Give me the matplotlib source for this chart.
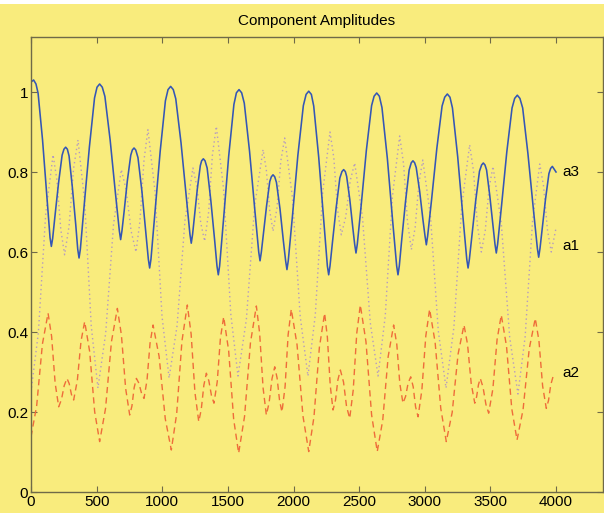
import matplotlib
matplotlib.use("Agg")
import matplotlib.pyplot as plt
from matplotlib.patches import Rectangle

plt.rcParams["font.family"] = ["Liberation Sans", "DejaVu Sans"]

# a3 (solid blue)
a3_x = [0, 20, 54, 88, 121, 155, 182, 210, 237, 264, 290, 315, 341, 366,
        405, 445, 484, 523, 563, 603, 643, 683, 709, 734, 760, 785,
        815, 845, 874, 904, 944, 984, 1024, 1064, 1103, 1143, 1182, 1221,
        1244, 1267, 1290, 1313, 1342, 1370, 1399, 1427, 1467, 1506, 1546, 1585,
        1625, 1665, 1705, 1745, 1770, 1795, 1819, 1844, 1870, 1897, 1923, 1950,
        1992, 2033, 2075, 2116, 2154, 2192, 2230, 2268, 2296, 2325, 2353, 2382,
        2405, 2429, 2452, 2476, 2516, 2555, 2595, 2634, 2674, 2715, 2755, 2796,
        2824, 2853, 2881, 2910, 2935, 2961, 2986, 3012, 3052, 3092, 3132, 3172,
        3211, 3251, 3290, 3330, 3359, 3388, 3417, 3446, 3471, 3495, 3520, 3545,
        3585, 3625, 3665, 3705, 3746, 3786, 3827, 3868, 3894, 3920, 3946, 3972, 4000]
a3_y = [1.025, 1.03, 0.997, 0.880, 0.739, 0.614, 0.688, 0.773, 0.842, 0.862, 0.840, 0.762, 0.668, 0.585,
        0.716, 0.863, 0.985, 1.02, 0.989, 0.880, 0.748, 0.631, 0.700, 0.778, 0.842, 0.86,
        0.836, 0.752, 0.650, 0.56, 0.696, 0.851, 0.978, 1.014, 0.983, 0.873, 0.740, 0.622,
        0.685, 0.757, 0.816, 0.833, 0.810, 0.729, 0.630, 0.543, 0.682, 0.839, 0.969, 1.006,
        0.972, 0.852, 0.706, 0.578, 0.643, 0.716, 0.776, 0.793, 0.774, 0.708, 0.627, 0.556,
        0.690, 0.841, 0.966, 1.002, 0.965, 0.837, 0.681, 0.543, 0.622, 0.711, 0.785, 0.806,
        0.789, 0.731, 0.660, 0.5975, 0.718, 0.854, 0.966, 0.9975, 0.961, 0.834, 0.679, 0.543,
        0.629, 0.725, 0.805, 0.828, 0.811, 0.752, 0.681, 0.618, 0.731, 0.859, 0.965, 0.995,
        0.960, 0.838, 0.691, 0.56, 0.639, 0.728, 0.802, 0.8225, 0.805, 0.742, 0.665, 0.5975,
        0.716, 0.850, 0.960, 0.992, 0.960, 0.846, 0.709, 0.587, 0.655, 0.732, 0.796, 0.814, 0.80]
# extra a3 readings close to each turning point (peaks are rounded)
a3_x_near = [38, 503, 543, 1044, 1084, 1565, 1605, 2096, 2136, 2614, 2654, 3152, 3192, 3685, 3725,
             251, 277, 772, 798, 1300, 1326, 1831, 1857, 2369, 2395, 2897, 2923, 3433, 3459, 3959,
             145, 165, 356, 376, 673, 693, 894, 914, 1211, 1231, 1417, 1437, 1735, 1755,
             1940, 1960, 2258, 2278, 2466, 2486, 2786, 2806, 3002, 3022, 3320, 3340,
             3535, 3555, 3858, 3878]
a3_y_near = [1.02, 1.012, 1.012, 1.006, 1.006, 0.998, 0.998, 0.994, 0.994, 0.9895, 0.9895, 0.987, 0.987, 0.984, 0.984,
             0.857, 0.857, 0.855, 0.855, 0.828, 0.828, 0.788, 0.788, 0.801, 0.801, 0.823, 0.823, 0.8175, 0.8175, 0.809,
             0.636, 0.634, 0.607, 0.607, 0.653, 0.653, 0.582, 0.582, 0.644, 0.644, 0.565, 0.565, 0.60, 0.60,
             0.578, 0.578, 0.565, 0.565, 0.6195, 0.6195, 0.565, 0.565, 0.64, 0.64, 0.582, 0.582,
             0.6195, 0.6195, 0.609, 0.609]

# a1 (dotted)
a1_x = [0, 56, 112, 168, 197, 227, 256, 290, 324, 358, 409, 459, 510,
        569, 629, 688, 725, 763, 800, 830, 861, 891, 945, 998, 1052,
        1113, 1173, 1234, 1264, 1293, 1323, 1353, 1382, 1412, 1467, 1522, 1577,
        1641, 1704, 1768, 1793, 1819, 1844, 1874, 1903, 1933, 1992, 2051, 2110,
        2166, 2222, 2278, 2307, 2335, 2364, 2398, 2432, 2466, 2525, 2585, 2644,
        2699, 2754, 2809, 2839, 2868, 2898, 2927, 2956, 2985, 3044, 3103, 3162,
        3222, 3282, 3342, 3372, 3401, 3431, 3461, 3490, 3520, 3583, 3647, 3710,
        3765, 3821, 3876, 3905, 3935, 3964, 4000]
a1_y = [0.25, 0.398, 0.695, 0.843, 0.781, 0.656, 0.593, 0.665, 0.808, 0.88, 0.725, 0.415, 0.26,
        0.397, 0.67, 0.806, 0.755, 0.652, 0.60, 0.677, 0.83, 0.906, 0.751, 0.44, 0.285,
        0.416, 0.679, 0.81, 0.764, 0.673, 0.627, 0.699, 0.842, 0.914, 0.758, 0.446, 0.29,
        0.432, 0.715, 0.856, 0.805, 0.703, 0.652, 0.710, 0.827, 0.885, 0.736, 0.439, 0.29,
        0.443, 0.748, 0.90, 0.836, 0.707, 0.643, 0.688, 0.778, 0.8225, 0.689, 0.423, 0.29,
        0.44, 0.74, 0.89, 0.819, 0.677, 0.606, 0.662, 0.774, 0.83, 0.688, 0.403, 0.26,
        0.412, 0.716, 0.868, 0.801, 0.667, 0.60, 0.654, 0.76, 0.814, 0.672, 0.387, 0.245,
        0.389, 0.676, 0.82, 0.765, 0.655, 0.60, 0.66]

# a2 (dashed)
a2_x = [0, 43, 87, 130, 157, 184, 211, 232, 253, 274, 291, 308, 325, 353, 381, 409,
        447, 485, 523, 568, 613, 658, 689, 721, 752, 769, 786, 803, 822, 842, 861,
        884, 907, 930, 976, 1023, 1069, 1110, 1150, 1191, 1220, 1249, 1278,
        1297, 1317, 1336, 1355, 1375, 1394, 1419, 1443, 1468, 1506, 1544, 1582,
        1627, 1672, 1717, 1742, 1768, 1793, 1814, 1836, 1857, 1875, 1894, 1912,
        1936, 1959, 1983, 2027, 2072, 2116, 2156, 2197, 2237, 2258, 2280, 2301,
        2320, 2338, 2357, 2381, 2404, 2428, 2455, 2482, 2509, 2552, 2595, 2638,
        2680, 2721, 2763, 2787, 2810, 2834, 2854, 2873, 2893, 2912, 2930, 2949,
        2978, 3008, 3037, 3079, 3122, 3164, 3209, 3254, 3299, 3326, 3354, 3381,
        3395, 3409, 3423, 3444, 3466, 3487, 3519, 3551, 3583, 3623, 3663, 3703,
        3749, 3796, 3842, 3870, 3898, 3926, 3943, 3960, 3977, 4000]
a2_y = [0.138, 0.215, 0.370, 0.447, 0.389, 0.272, 0.213, 0.231, 0.266, 0.284, 0.271, 0.244, 0.23, 0.279, 0.377, 0.426,
        0.351, 0.201, 0.126, 0.209, 0.376, 0.459, 0.392, 0.259, 0.1925, 0.215, 0.261, 0.284, 0.272, 0.247, 0.234,
        0.280, 0.372, 0.4175, 0.339, 0.183, 0.105, 0.196, 0.377, 0.4675, 0.395, 0.249, 0.176,
        0.206, 0.267, 0.297, 0.278, 0.241, 0.222, 0.276, 0.384, 0.438, 0.353, 0.182, 0.097,
        0.189, 0.373, 0.465, 0.397, 0.261, 0.1925, 0.223, 0.283, 0.313, 0.285, 0.228, 0.20,
        0.264, 0.393, 0.457, 0.368, 0.190, 0.101, 0.188, 0.361, 0.447, 0.387, 0.266, 0.205,
        0.230, 0.280, 0.305, 0.275, 0.214, 0.184, 0.255, 0.397, 0.4675, 0.376, 0.193, 0.101,
        0.180, 0.338, 0.4175, 0.369, 0.271, 0.222, 0.239, 0.272, 0.288, 0.263, 0.213, 0.188,
        0.255, 0.390, 0.457, 0.374, 0.209, 0.126, 0.199, 0.345, 0.4175, 0.369, 0.271, 0.222,
        0.238, 0.268, 0.284, 0.262, 0.219, 0.197, 0.258, 0.381, 0.4425, 0.364, 0.208, 0.13,
        0.206, 0.358, 0.434, 0.378, 0.265, 0.209, 0.229, 0.268, 0.288, 0.292]

labels = ["a3", "a1", "a2"]
label_y = [0.80, 0.615, 0.2975]
xticks = [0, 500, 1000, 1500, 2000, 2500, 3000, 3500, 4000]
yticks = [0, 0.2, 0.4, 0.6, 0.8, 1]

# merge the turning-point readings into the a3 series
a3_pts = sorted(zip(a3_x + a3_x_near, a3_y + a3_y_near))
a3_xs = [p[0] for p in a3_pts]
a3_ys = [p[1] for p in a3_pts]

bg = "#F9EC7D"
fig = plt.figure(figsize=(6.04, 5.13), dpi=100, facecolor=bg)
fig.patches.append(Rectangle((0, 1 - 4 / 513), 1, 4 / 513, transform=fig.transFigure,
                             facecolor="white", edgecolor="none"))
ax = fig.add_axes([31 / 604, 21 / 513, 572 / 604, 455 / 513], facecolor=bg)

ax.plot(a1_x, a1_y, color="#b59bc0", lw=1.0, linestyle=(0, (1, 2.2)))
ax.plot(a2_x, a2_y, color="#ee6d3a", lw=1.0, linestyle=(0, (4.5, 3)))
ax.plot(a3_xs, a3_ys, color="#3456b5", lw=1.15)

for lab, ly in zip(labels, label_y):
    ax.text(4050, ly, lab, fontsize=11, va="center", ha="left")

ax.set_xlim(0, 4358)
ax.set_ylim(0, 1.1375)
ax.set_xticks(xticks)
ax.set_yticks(yticks)
ax.set_yticklabels(["0", "0.2", "0.4", "0.6", "0.8", "1"])
ax.tick_params(direction="in", length=4, top=True, right=True, labelsize=11,
               color="#6f6a48", pad=2)
for s in ax.spines.values():
    s.set_color("#6f6a48")
    s.set_linewidth(1.0)
ax.set_title("Component Amplitudes", fontsize=11, pad=9)

fig.savefig("out.png", dpi=100, facecolor=bg)
